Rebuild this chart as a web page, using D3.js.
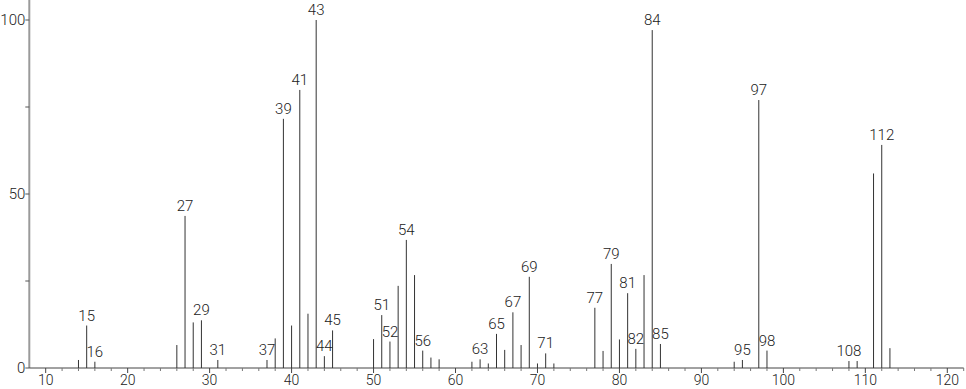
<!DOCTYPE html>
<html>
<head>
<meta charset="utf-8">
<script src="https://cdn.jsdelivr.net/npm/d3@7"></script>
<style>
  body { margin: 0; background: #fff; }
  svg { display: block; }
  text { font-family: Roboto, "Open Sans", sans-serif; font-weight: 300; fill: #222; }
</style>
</head>
<body>
<svg id="chart" width="966" height="389"></svg>
<script>
// m/z values and relative intensities
const mz = [14, 15, 16, 26, 27, 28, 29, 31, 37, 38, 39, 40, 41, 42, 43, 44, 45,
    50, 51, 52, 53, 54, 55, 56, 57, 58, 62, 63, 64, 65, 66, 67, 68, 69, 70, 71, 72,
    77, 78, 79, 80, 81, 82, 83, 84, 85, 94, 95, 97, 98, 108, 109, 111, 112, 113];
const intensity = [2.3, 12.2, 1.8, 6.6, 43.7, 13.1, 13.7, 2.3, 2.3, 8.5, 71.6, 12.2, 79.9, 15.6, 100, 3.4, 10.8,
    8.3, 15.2, 7.6, 23.6, 36.8, 26.7, 5.0, 3.0, 2.5, 1.8, 2.5, 1.3, 9.8, 5.2, 16.0, 6.6, 26.2, 1.3, 4.2, 1.3,
    17.3, 4.9, 29.9, 8.2, 21.5, 5.5, 26.7, 97.1, 6.9, 1.8, 2.3, 77.0, 5.0, 2.0, 2.0, 55.9, 64.1, 5.7];
const labelled = [15, 16, 27, 29, 31, 37, 39, 41, 43, 44, 45, 51, 52, 54, 56, 63, 65, 67, 69, 71,
    77, 79, 81, 82, 84, 85, 95, 97, 98, 108, 112];
const xTicks = [10, 20, 30, 40, 50, 60, 70, 80, 90, 100, 110, 120];
const yTicks = [0, 50, 100];

const peaks = mz.map((m, i) => ({mz: m, value: intensity[i]}));

const svg = d3.select("#chart");

const x = d3.scaleLinear().domain([8, 122]).range([29.3, 963.7]);
const y = d3.scaleLinear().domain([0, 100]).range([368, 20]);
const yTop = y.invert(0);

// y axis
svg.append("line")
    .attr("x1", x(8)).attr("x2", x(8))
    .attr("y1", y(0)).attr("y2", y(yTop))
    .attr("stroke", "#9a9a9a").attr("stroke-width", 2);

svg.append("g")
    .selectAll("line")
    .data([0, 25, 50, 75, 100])
    .join("line")
    .attr("x1", x(8) - 4).attr("x2", x(8))
    .attr("y1", d => y(d)).attr("y2", d => y(d))
    .attr("stroke", "#555");

svg.append("g")
    .selectAll("text")
    .data(yTicks)
    .join("text")
    .attr("x", x(8) - 4)
    .attr("y", d => y(d))
    .attr("dy", "0.36em")
    .attr("text-anchor", "end")
    .style("font-size", "15px")
    .text(d => d);

// x axis
svg.append("line")
    .attr("x1", x(8)).attr("x2", x(122))
    .attr("y1", y(0)).attr("y2", y(0))
    .attr("stroke", "#444");

const minor = d3.range(10, 123, 2).filter(d => d % 10 !== 0);
svg.append("g")
    .selectAll("line")
    .data(minor)
    .join("line")
    .attr("x1", d => x(d)).attr("x2", d => x(d))
    .attr("y1", y(0)).attr("y2", y(0) + 3)
    .attr("stroke", "#777");

svg.append("g")
    .selectAll("line")
    .data(xTicks)
    .join("line")
    .attr("x1", d => x(d)).attr("x2", d => x(d))
    .attr("y1", y(0)).attr("y2", y(0) + 5)
    .attr("stroke", "#444");

svg.append("g")
    .selectAll("text")
    .data(xTicks)
    .join("text")
    .attr("x", d => x(d))
    .attr("y", y(0) + 17)
    .attr("text-anchor", "middle")
    .style("font-size", "14px")
    .text(d => d);

// peaks
svg.append("g")
    .selectAll("line")
    .data(peaks)
    .join("line")
    .attr("x1", d => x(d.mz)).attr("x2", d => x(d.mz))
    .attr("y1", y(0)).attr("y2", d => y(d.value))
    .attr("stroke", "#333");

svg.append("g")
    .selectAll("text")
    .data(peaks.filter(d => labelled.includes(d.mz)))
    .join("text")
    .attr("x", d => x(d.mz))
    .attr("y", d => y(d.value) - 5)
    .attr("text-anchor", "middle")
    .style("font-size", "15px")
    .text(d => d.mz);
</script>
</body>
</html>
